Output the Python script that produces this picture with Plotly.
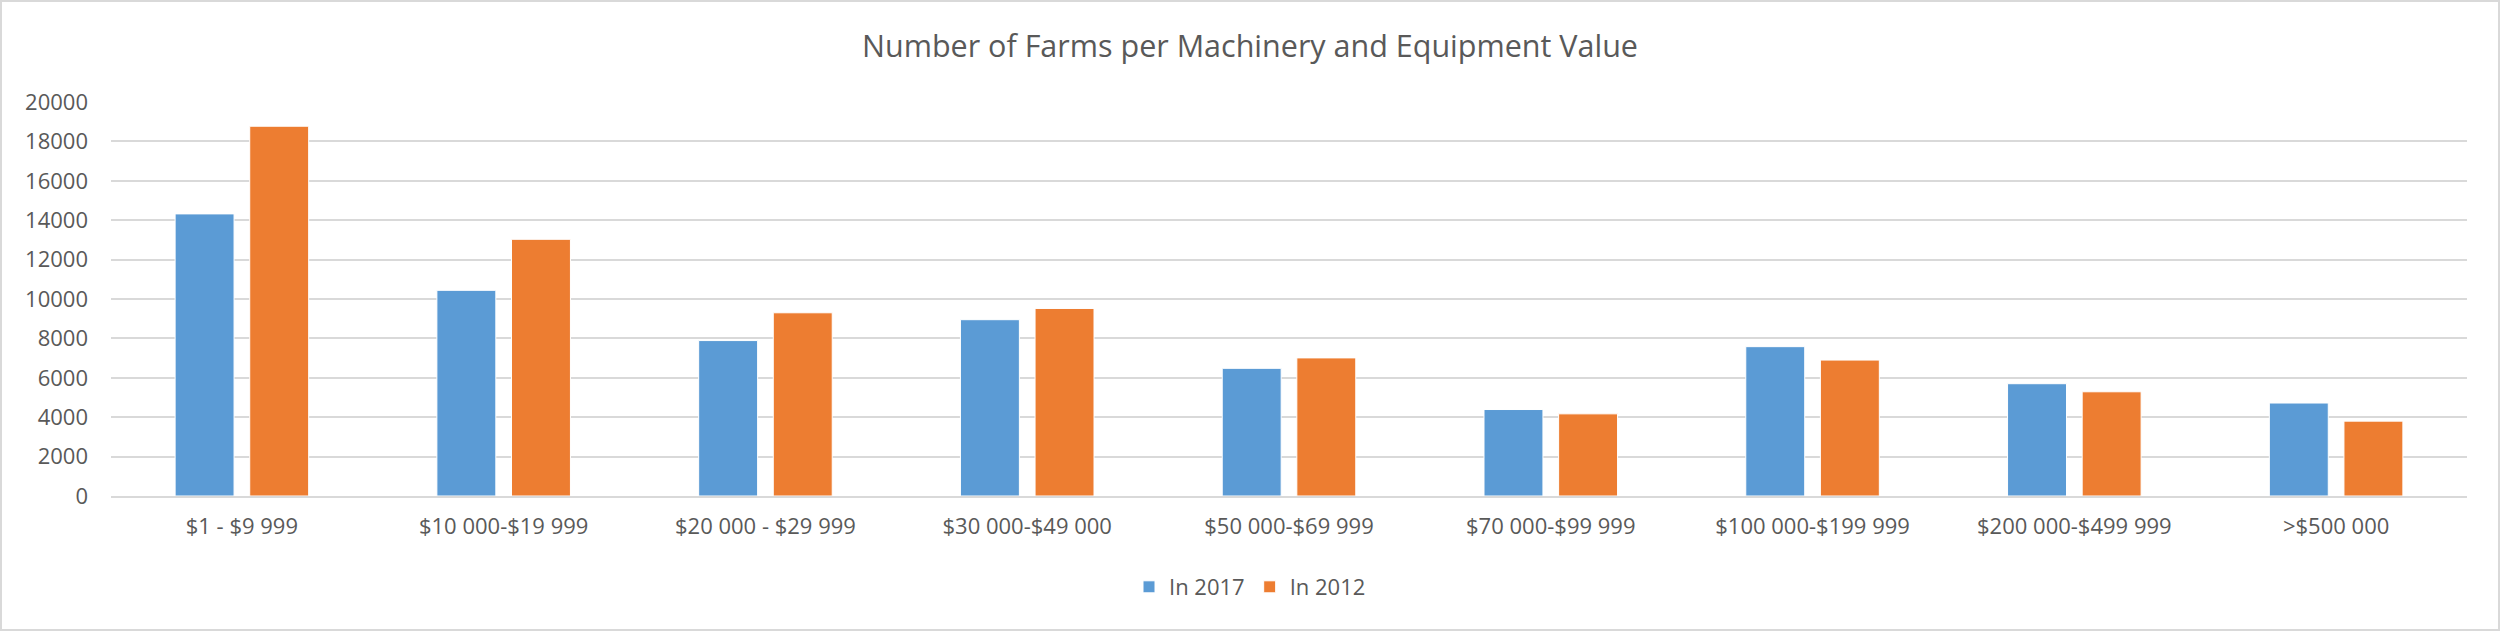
import plotly.graph_objects as go

# machinery & equipment value bands
categories = ['$1 - $9 999', '$10 000-$19 999', '$20 000 - $29 999', '$30 000-$49 000',
              '$50 000-$69 999', '$70 000-$99 999', '$100 000-$199 999',
              '$200 000-$499 999', '>$500 000']
farms_2017 = [14320, 10440, 7890, 8950, 6480, 4390, 7580, 5700, 4720]
farms_2012 = [18770, 13030, 9300, 9520, 7010, 4170, 6900, 5290, 3800]
y_ticks = list(range(0, 20001, 2000))

W, H = 2500, 631
L, R, T, B = 111, 33, 102, 135
pw, ph = W - L - R, H - T - B
text_col = '#595959'
font = 'Open Sans'

fig = go.Figure()
fig.add_trace(go.Bar(x=categories, y=farms_2017, name='In 2017',
                     marker=dict(color='#5B9BD5', line=dict(color='#FFFFFF', width=1))))
fig.add_trace(go.Bar(x=categories, y=farms_2012, name='In 2012',
                     marker=dict(color='#ED7D31', line=dict(color='#FFFFFF', width=1))))

# light frame round the whole chart
fig.add_shape(type='rect', xref='paper', yref='paper',
              x0=(1 - L) / pw, x1=(W - L - 1) / pw,
              y0=-(B - 1) / ph, y1=(H - B - 1) / ph,
              line=dict(color='#D9D9D9', width=2), fillcolor='rgba(0,0,0,0)', layer='below')

fig.update_layout(
    width=W, height=H,
    margin=dict(l=L, r=R, t=T, b=B, autoexpand=False),
    paper_bgcolor='white', plot_bgcolor='white',
    barmode='group', bargap=0.43, bargroupgap=0.21,
    font=dict(family=font, color=text_col, size=22),
    title=dict(text='Number of Farms per Machinery and Equipment Value',
               x=0.5, xref='container', xanchor='center',
               y=1 - 46 / H, yref='container', yanchor='middle',
               font=dict(family=font, size=30.5, color=text_col)),
    legend=dict(orientation='h', x=(W / 2 - L) / pw, xanchor='center',
                y=-(587 - (H - B)) / ph, yanchor='middle',
                font=dict(size=22, color=text_col), itemwidth=30,
                traceorder='normal'),
)
fig.update_xaxes(showgrid=False, showline=True, linecolor='#D9D9D9', linewidth=2,
                 ticks='', tickangle=0, tickfont=dict(size=22, color=text_col),
                 ticklabelstandoff=10)
fig.update_yaxes(range=[0, 20000], tickvals=y_ticks, tickformat='d', showgrid=True,
                 gridcolor='#D9D9D9', gridwidth=1.5, zeroline=False, showline=False,
                 ticks='', tickfont=dict(size=22, color=text_col), ticklabelstandoff=22)

fig.write_html('out.html', config={'displayModeBar': False},
               post_script="document.body.style.margin='0';")
